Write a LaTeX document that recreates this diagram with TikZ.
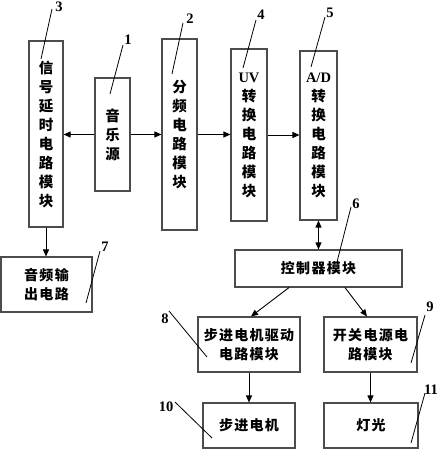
\documentclass[tikz,border=0pt]{standalone}
\usepackage{fontspec}
\setmainfont{Liberation Serif}
\newfontfamily\cjk[LetterSpace=9]{Noto Sans CJK SC}
\newfontfamily\cjkv{Noto Sans CJK SC}
\usetikzlibrary{arrows.meta}
\begin{document}
\begin{tikzpicture}[x=1pt,y=-1pt,
  box/.style={draw=black!70,line width=1.1pt,inner sep=0pt,align=center,
    font=\cjk\bfseries\fontsize{14}{19.5}\selectfont},
  vbox/.style={draw=black!70,line width=1.1pt,inner sep=0pt,align=center,
    font=\cjkv\bfseries\fontsize{14.5}{19}\selectfont},
  arr/.style={line width=0.9pt,-{Triangle[length=7pt,width=6pt]}},
  darr/.style={line width=0.9pt,{Triangle[length=7pt,width=6pt]}-{Triangle[length=7pt,width=6pt]}},
  lead/.style={line width=0.8pt},
  num/.style={inner sep=0pt,font=\bfseries\fontsize{14.5}{14.5}\selectfont}]
\useasboundingbox (0,0) rectangle (438,450);
% vertical boxes
\node[vbox,minimum width=34,minimum height=186] (b3) at (46,134) {信\\号\\延\\时\\电\\路\\模\\块};
\node[vbox,minimum width=35,minimum height=113] (b1) at (112.5,134.5) {音\\乐\\源};
\node[vbox,minimum width=35,minimum height=191] (b2) at (179.5,134.5) {分\\频\\电\\路\\模\\块};
\node[vbox,minimum width=36,minimum height=172] (b4) at (249,135) {{\rmfamily UV}\\转\\换\\电\\路\\模\\块};
\node[vbox,minimum width=37,minimum height=169] (b5) at (318.5,135.5) {{\rmfamily A/D}\\转\\换\\电\\路\\模\\块};
% horizontal boxes
\node[box,minimum width=167,minimum height=37] (b6) at (318.5,268.5) {控制器模块};
\node[box,minimum width=91,minimum height=55] (b7) at (46.5,284.5) {音频输\\出电路};
\node[box,minimum width=102,minimum height=55] (b8) at (249,344.5) {步进电机驱动\\电路模块};
\node[box,minimum width=93,minimum height=55] (b9) at (370.5,344.5) {开关电源电\\路模块};
\node[box,minimum width=92,minimum height=45] (b10) at (249,425.5) {步进电机};
\node[box,minimum width=94,minimum height=45] (b11) at (371,425.5) {灯光};
% connectors
\draw[arr] (b1.west) -- (b1.west -| b3.east);
\draw[arr] (b1.east) -- (b1.east -| b2.west);
\draw[arr] (b2.east) -- (b2.east -| b4.west);
\draw[arr] (b4.east) -- (b4.east -| b5.west);
\draw[darr] (b5.south) -- (b5.south |- b6.north);
\draw[arr] (b3.south) -- (b3.south |- b7.north);
\draw[arr] ([xshift=-29.5pt]b6.south) -- ([xshift=2pt]b8.north);
\draw[arr] ([xshift=26.5pt]b6.south) -- ([xshift=-3.5pt]b9.north);
\draw[arr] (b8.south) -- (b10.north);
\draw[arr] (b9.south) -- (b9.south |- b11.north);
% labels
\node[num] (l3) at (59,7) {3};
\node[num] (l1) at (128,40) {1};
\node[num] (l2) at (190,19) {2};
\node[num] (l4) at (261,15) {4};
\node[num] (l5) at (330,13) {5};
\node[num] (l6) at (356,204) {6};
\node[num] (l7) at (105,247) {7};
\node[num] (l8) at (165,319) {8};
\node[num] (l9) at (430,307) {9};
\node[num] (l10) at (166,407) {10};
\node[num] (l11) at (431,390) {11};
\coordinate (p3a) at (52,9);   \coordinate (p3b) at (41,59);
\coordinate (p1a) at (123,45); \coordinate (p1b) at (110,94);
\coordinate (p2a) at (183,23); \coordinate (p2b) at (172,74);
\coordinate (p4a) at (256,20); \coordinate (p4b) at (243,68);
\coordinate (p5a) at (325,17); \coordinate (p5b) at (311,67);
\coordinate (p6a) at (351,207); \coordinate (p6b) at (337,262);
\coordinate (p7a) at (100,251); \coordinate (p7b) at (86,303);
\coordinate (p8a) at (169,311); \coordinate (p8b) at (207,357);
\coordinate (p9a) at (425,315); \coordinate (p9b) at (411,363);
\coordinate (p10a) at (175,402); \coordinate (p10b) at (212,438);
\coordinate (p11a) at (425,393); \coordinate (p11b) at (411,443);
\foreach \i in {3,1,2,4,5,6,7,8,9,10,11} {\draw[lead] (p\i a) -- (p\i b);}
\end{tikzpicture}
\end{document}
